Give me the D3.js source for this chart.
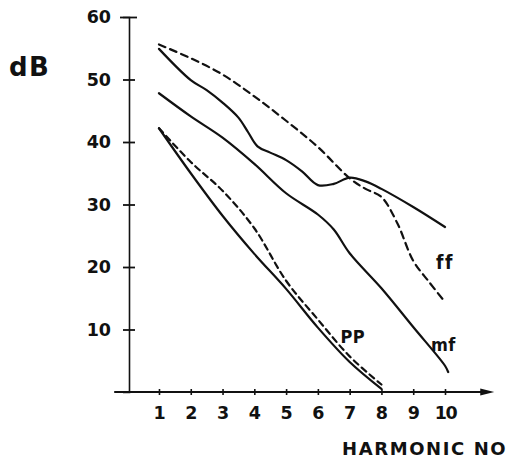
<!DOCTYPE html>
<html>
<head>
<meta charset="utf-8">
<script src="https://cdn.jsdelivr.net/npm/d3@7"></script>
<style>
  html, body { margin: 0; padding: 0; background: #fff; }
  svg { display: block; }
  text { fill: #111; }
</style>
</head>
<body>
<svg id="chart" width="512" height="463"></svg>
<script>
// Harmonic spectra: level (dB) of each harmonic at three dynamics.
const harmonicTicks = [1, 2, 3, 4, 5, 6, 7, 8, 9, 10];
const dbTicks = [10, 20, 30, 40, 50, 60];

// ff, dashed
const ffDashedHarm = [1, 2, 3, 4, 5, 6, 7, 7.5, 8, 8.5, 9, 9.5, 10];
const ffDashedDb   = [55.6, 53.4, 50.8, 47.3, 43.4, 39.2, 34.2, 32.5, 31.2, 27.0, 21.0, 17.6, 14.4];

// ff, solid
const ffSolidHarm = [1, 2, 2.5, 3, 3.5, 3.8, 4.1, 4.5, 5, 5.5, 6, 6.5, 7, 7.5, 8, 9, 10];
const ffSolidDb   = [54.9, 49.9, 48.3, 46.3, 43.9, 41.6, 39.3, 38.3, 37.1, 35.3, 33.1, 33.3, 34.3, 33.7, 32.5, 29.6, 26.4];

// mf, solid
const mfHarm = [1, 2, 3, 4, 5, 6, 6.5, 7, 8, 9, 10, 10.1];
const mfDb   = [47.8, 44.1, 40.7, 36.5, 31.8, 28.4, 26.0, 22.2, 16.6, 10.4, 4.2, 3.2];

// pp, solid
const ppSolidHarm = [1, 2, 3, 4, 5, 6, 7, 8];
const ppSolidDb   = [42.2, 35.0, 28.2, 22.1, 16.5, 10.3, 4.8, 0.5];

// pp, dashed
const ppDashedHarm = [1, 2, 3, 4, 5, 6, 7, 8];
const ppDashedDb   = [42.2, 36.8, 32.2, 26.2, 17.8, 11.6, 5.7, 1.2];

const svg = d3.select("#chart");

const x = d3.scaleLinear().domain([0, 10]).range([127.2, 445]);
const y = d3.scaleLinear().domain([0, 60]).range([392, 17]);

const tickFont = "'DejaVu Sans', sans-serif";

// y axis
const yAxis = svg.append("g")
  .attr("transform", `translate(${x(0) + 1.8},0)`)
  .call(d3.axisLeft(y).tickValues(dbTicks).tickSizeOuter(0).tickSize(6).tickPadding(12));
yAxis.select(".domain").attr("stroke", "#111").attr("stroke-width", 1.6);
yAxis.selectAll(".tick line")
  .attr("x1", d => d === 60 ? -9 : -6)
  .attr("x2", d => d === 60 ? 8 : 6)
  .attr("stroke", "#111").attr("stroke-width", 1.8);
yAxis.selectAll(".tick text")
  .attr("font-family", tickFont).attr("font-weight", "bold")
  .attr("font-size", 17.5).attr("fill", "#111");

// x axis
const xAxis = svg.append("g")
  .attr("transform", `translate(0,${y(0)})`)
  .call(d3.axisBottom(x).tickValues(harmonicTicks).tickSizeOuter(0).tickSize(3).tickPadding(12));
xAxis.select(".domain").remove();
xAxis.selectAll(".tick line")
  .attr("y1", -3).attr("y2", 3)
  .attr("stroke", "#111").attr("stroke-width", 1.6);
xAxis.selectAll(".tick text")
  .attr("font-family", tickFont).attr("font-weight", "bold")
  .attr("font-size", 17.5).attr("fill", "#111")
  .attr("letter-spacing", d => d === 10 ? -1.5 : 0);

const xStart = x(0) - 13;
const xEnd = x(11.55);
xAxis.append("line")
  .attr("x1", xStart).attr("x2", xEnd - 6).attr("y1", 0).attr("y2", 0)
  .attr("stroke", "#111").attr("stroke-width", 1.8);
xAxis.append("path")
  .attr("d", `M${xEnd},0 L${xEnd - 14},-3.6 L${xEnd - 14},3.6 Z`)
  .attr("fill", "#111");

// axis titles
svg.append("text")
  .attr("x", 9).attr("y", 76)
  .attr("font-family", tickFont).attr("font-weight", "bold")
  .attr("font-size", 26).attr("letter-spacing", 1.5)
  .text("dB");

svg.append("text")
  .attr("x", 342).attr("y", 455)
  .attr("font-family", tickFont).attr("font-weight", "bold")
  .attr("font-size", 18).attr("letter-spacing", 1.6)
  .text("HARMONIC NO");

// curves
const line = d3.line()
  .x(d => x(d[0]))
  .y(d => y(d[1]))
  .curve(d3.curveCatmullRom.alpha(0.5));

const series = [
  { harm: ffDashedHarm, db: ffDashedDb, dash: "7,5" },
  { harm: ffSolidHarm, db: ffSolidDb, dash: null },
  { harm: mfHarm, db: mfDb, dash: null },
  { harm: ppSolidHarm, db: ppSolidDb, dash: null },
  { harm: ppDashedHarm, db: ppDashedDb, dash: "6,4.5" }
];

svg.append("g").selectAll("path")
  .data(series)
  .join("path")
  .attr("d", s => line(s.harm.map((h, i) => [h, s.db[i]])))
  .attr("fill", "none")
  .attr("stroke", "#111")
  .attr("stroke-width", 2.2)
  .attr("stroke-linecap", "round")
  .attr("stroke-dasharray", s => s.dash);

// curve labels
const curveLabels = [
  { text: "ff", h: 10, db: 20.8, size: 19 },
  { text: "mf", h: 9.95, db: 7.6, size: 18 },
  { text: "PP", h: 7.1, db: 8.8, size: 18 }
];
svg.append("g").selectAll("text")
  .data(curveLabels)
  .join("text")
  .attr("x", d => x(d.h))
  .attr("y", d => y(d.db))
  .attr("dy", "0.36em")
  .attr("text-anchor", "middle")
  .attr("font-family", "'DejaVu Sans Condensed', 'DejaVu Sans', sans-serif")
  .attr("font-weight", "bold")
  .attr("font-size", d => d.size)
  .attr("letter-spacing", d => d.text === "ff" ? 1.5 : 0.5)
  .text(d => d.text);
</script>
</body>
</html>
